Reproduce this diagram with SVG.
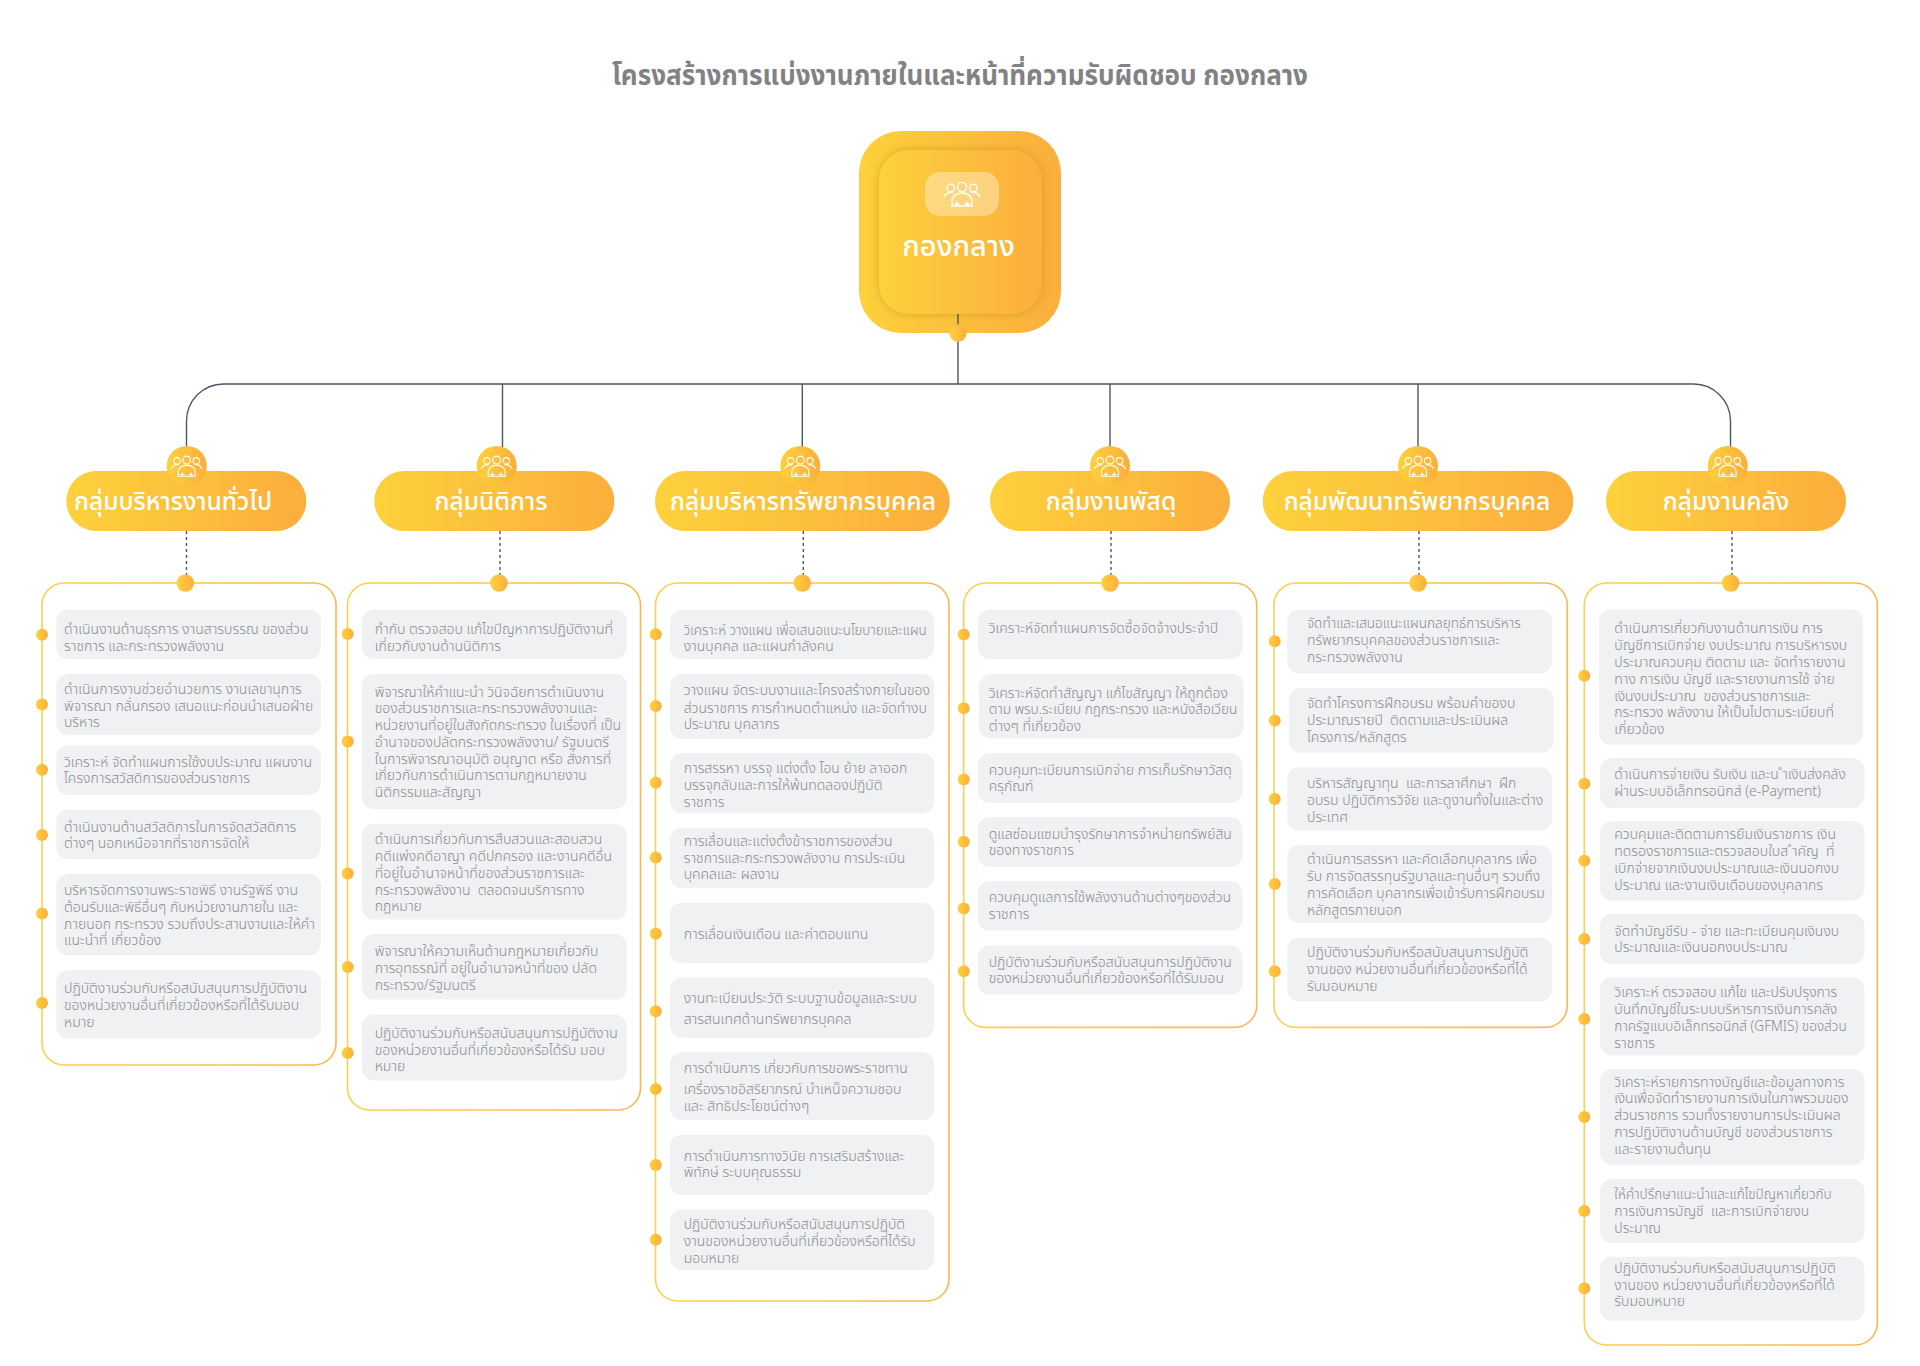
<svg xmlns="http://www.w3.org/2000/svg" xmlns:xlink="http://www.w3.org/1999/xlink" width="1920" height="1366" viewBox="0 0 1920 1366">
<style>
text{font-family:"Noto Sans Thai","Noto Sans","Liberation Sans",sans-serif}
.title{font-size:28px;font-weight:700;fill:#808285;text-anchor:middle}
.rootname{font-size:29px;font-weight:500;fill:#fff;text-anchor:middle}
.pill{fill:url(#g)}
.gname{font-size:24.600px;font-weight:500;fill:#fff;text-anchor:middle}
.panel{fill:#fff;stroke:url(#gs);stroke-width:1.6}
.item{fill:#f0f1f3}
.t{font-size:14px;font-weight:300;fill:#8a8c90}
.dot{fill:url(#g)}
.conn{fill:none;stroke:#4d5766;stroke-width:1.4}
.dash{fill:none;stroke:#4d5766;stroke-width:1.4;stroke-dasharray:3 3}
.ic{fill:none;stroke:#fff;stroke-width:1.3;stroke-linecap:round;stroke-linejoin:round}
</style>
<defs>
<linearGradient id="g" x1="0" y1="0" x2="1" y2="0"><stop offset="0" stop-color="#fdd13c"/><stop offset="1" stop-color="#fbae3c"/></linearGradient>
<linearGradient id="gs" x1="0" y1="0" x2="1" y2="0"><stop offset="0" stop-color="#fdd050"/><stop offset="1" stop-color="#fbb850"/></linearGradient>
<filter id="sh" x="-20%" y="-20%" width="140%" height="140%"><feDropShadow dx="0" dy="0" stdDeviation="5" flood-color="#8a6a20" flood-opacity="0.35"/></filter>
<g id="people" class="ic">
<circle cx="-11.3" cy="-6" r="3.8"/><circle cx="0" cy="-7" r="4.6"/><circle cx="11.3" cy="-6" r="3.8"/>
<path d="M-18 3C-16-1-13-2-9.500-1.500M18 3C16-1 13-2 9.500-1.500"/>
<path d="M-10 12V7C-10 2-5-1 0-1S10 2 10 7V12ZM-5 12V8M5 12V8M-7 10H-3M3 10H7"/>
</g>
</defs>
<text id="title" class="title" x="960" y="85" textLength="696" lengthAdjust="spacingAndGlyphs">โครงสร้างการแบ่งงานภายในและหน้าที่ความรับผิดชอบ กองกลาง</text>
<g id="root">
<rect class="pill" x="859" y="131" width="202" height="202" rx="42"/>
<rect class="pill" x="879" y="150" width="163" height="164" rx="30" filter="url(#sh)"/>
<rect x="925" y="172" width="74" height="44" rx="15" fill="#fff" fill-opacity="0.35"/>
<use xlink:href="#people" href="#people" transform="translate(962 194)"/>
<text class="rootname" x="958.500" y="256">กองกลาง</text>
</g>
<g id="connectors">
<path class="conn" d="M958 314V384M186.500 466V421A37 37 0 0 1 223.500 384H1693A37 37 0 0 1 1730.500 421V466M502.500 384V466M802.300 384V466M1110 384V466M1418 384V466"/>
<path class="dash" d="M186.500 531V575M500 531V575M803.300 531V575M1111 531V575M1419 531V575M1732 531V575"/>
</g>
<circle id="root-anchor" class="dot" cx="958" cy="333" r="8.700"/>

<g id="group1">
<rect class="panel" x="42" y="583" width="294" height="482" rx="22"/>
<circle class="dot" cx="185.300" cy="583" r="8.700"/>
<rect class="pill" x="66.300" y="471" width="240" height="60" rx="30"/>
<circle class="dot" cx="186.700" cy="466" r="20"/><use xlink:href="#people" href="#people" transform="translate(186.700 466) scale(.85)"/>
<text class="gname" x="173" y="510">กลุ่มบริหารงานทั่วไป</text>
<g id="g1i1"><circle class="dot" cx="42" cy="634.700" r="6"/><rect class="item" x="56.300" y="609.400" width="264.700" height="49.800" rx="12"/><text class="t"><tspan x="64" y="634">ดำเนินงานด้านธุรการ งานสารบรรณ ของส่วน</tspan><tspan x="64" y="651">ราชการ และกระทรวงพลังงาน</tspan></text></g>
<g id="g1i2"><circle class="dot" cx="42" cy="704.500" r="6"/><rect class="item" x="56.300" y="673.900" width="264.700" height="61.100" rx="12"/><text class="t"><tspan x="64" y="694">ดำเนินการงานช่วยอำนวยการ งานเลขานุการ</tspan><tspan x="64" y="710.600">พิจารณา กลั่นกรอง เสนอแนะก่อนนำเสนอฝ่าย</tspan><tspan x="64" y="727">บริหาร</tspan></text></g>
<g id="g1i3"><circle class="dot" cx="42" cy="769.800" r="6"/><rect class="item" x="56.300" y="745.300" width="264.700" height="49.400" rx="12"/><text class="t"><tspan x="64" y="766.500">วิเคราะห์ จัดทำแผนการใช้งบประมาณ แผนงาน</tspan><tspan x="64" y="783">โครงการสวัสดิการของส่วนราชการ</tspan></text></g>
<g id="g1i4"><circle class="dot" cx="42" cy="835" r="6"/><rect class="item" x="56.300" y="809.400" width="264.700" height="49.800" rx="12"/><text class="t"><tspan x="64" y="832">ดำเนินงานด้านสวัสดิการในการจัดสวัสดิการ</tspan><tspan x="64" y="848">ต่างๆ นอกเหนือจากที่ราชการจัดให้</tspan></text></g>
<g id="g1i5"><circle class="dot" cx="42" cy="913.500" r="6"/><rect class="item" x="56.300" y="873.900" width="264.700" height="81.600" rx="12"/><text class="t"><tspan x="64" y="895">บริหารจัดการงานพระราชพิธี งานรัฐพิธี งาน</tspan><tspan x="64" y="912">ต้อนรับและพิธีอื่นๆ กับหน่วยงานภายใน และ</tspan><tspan x="64" y="928.600">ภายนอก กระทรวง รวมถึงประสานงานและให้คำ</tspan><tspan x="64" y="945">แนะนำที่ เกี่ยวข้อง</tspan></text></g>
<g id="g1i6"><circle class="dot" cx="42" cy="1002.900" r="6"/><rect class="item" x="56.300" y="970.200" width="264.700" height="68.600" rx="12"/><text class="t"><tspan x="64" y="993">ปฏิบัติงานร่วมกับหรือสนับสนุนการปฏิบัติงาน</tspan><tspan x="64" y="1010">ของหน่วยงานอื่นที่เกี่ยวข้องหรือที่ได้รับมอบ</tspan><tspan x="64" y="1026.500">หมาย</tspan></text></g>
</g>

<g id="group2">
<rect class="panel" x="347.500" y="583" width="293" height="527" rx="22"/>
<circle class="dot" cx="499" cy="583" r="8.700"/>
<rect class="pill" x="374.300" y="471" width="240" height="60" rx="30"/>
<circle class="dot" cx="496.700" cy="466" r="20"/><use xlink:href="#people" href="#people" transform="translate(496.700 466) scale(.85)"/>
<text class="gname" x="491" y="510">กลุ่มนิติการ</text>
<g id="g2i1"><circle class="dot" cx="347.700" cy="634" r="6"/><rect class="item" x="362" y="609.600" width="264.700" height="49.400" rx="12"/><text class="t"><tspan x="374.700" y="634">กำกับ ตรวจสอบ แก้ไขปัญหาการปฏิบัติงานที่</tspan><tspan x="374.700" y="651">เกี่ยวกับงานด้านนิติการ</tspan></text></g>
<g id="g2i2"><circle class="dot" cx="347.700" cy="741.400" r="6"/><rect class="item" x="362" y="673.700" width="264.700" height="135.300" rx="12"/><text class="t"><tspan x="374.700" y="697">พิจารณาให้คำแนะนำ วินิจฉัยการดำเนินงาน</tspan><tspan x="374.700" y="713">ของส่วนราชการและกระทรวงพลังงานและ</tspan><tspan x="374.700" y="730">หน่วยงานที่อยู่ในสังกัดกระทรวง ในเรื่องที่ เป็น</tspan><tspan x="374.700" y="747">อำนาจของปลัดกระทรวงพลังงาน/ รัฐมนตรี</tspan><tspan x="374.700" y="763.500">ในการพิจารณาอนุมัติ อนุญาต หรือ สั่งการที่</tspan><tspan x="374.700" y="780.400">เกี่ยวกับการดำเนินการตามกฎหมายงาน</tspan><tspan x="374.700" y="797">นิติกรรมและสัญญา</tspan></text></g>
<g id="g2i3"><circle class="dot" cx="347.700" cy="873.600" r="6"/><rect class="item" x="362" y="823.800" width="264.700" height="95.800" rx="12"/><text class="t"><tspan x="374.700" y="844">ดำเนินการเกี่ยวกับการสืบสวนและสอบสวน</tspan><tspan x="374.700" y="860.600">คดีแพ่งคดีอาญา คดีปกครอง และงานคดีอื่น</tspan><tspan x="374.700" y="878">ที่อยู่ในอำนาจหน้าที่ของส่วนราชการและ</tspan><tspan x="374.700" y="894.500" xml:space="preserve">กระทรวงพลังงาน  ตลอดจนบริการทาง</tspan><tspan x="374.700" y="911">กฎหมาย</tspan></text></g>
<g id="g2i4"><circle class="dot" cx="347.700" cy="967" r="6"/><rect class="item" x="362" y="934" width="264.700" height="65.400" rx="12"/><text class="t"><tspan x="374.700" y="956">พิจารณาให้ความเห็นด้านกฎหมายเกี่ยวกับ</tspan><tspan x="374.700" y="973.400">การอุทธรณ์ที่ อยู่ในอำนาจหน้าที่ของ ปลัด</tspan><tspan x="374.700" y="990">กระทรวง/รัฐมนตรี</tspan></text></g>
<g id="g2i5"><circle class="dot" cx="347.700" cy="1053" r="6"/><rect class="item" x="362" y="1014.600" width="264.700" height="65.900" rx="12"/><text class="t"><tspan x="374.700" y="1037.600">ปฏิบัติงานร่วมกับหรือสนับสนุนการปฏิบัติงาน</tspan><tspan x="374.700" y="1054.500">ของหน่วยงานอื่นที่เกี่ยวข้องหรือได้รับ มอบ</tspan><tspan x="374.700" y="1071.400">หมาย</tspan></text></g>
</g>

<g id="group3">
<rect class="panel" x="655.500" y="583" width="293.500" height="718" rx="22"/>
<circle class="dot" cx="802.300" cy="583" r="8.700"/>
<rect class="pill" x="655" y="471" width="294.700" height="60" rx="30"/>
<circle class="dot" cx="800.300" cy="466" r="20"/><use xlink:href="#people" href="#people" transform="translate(800.300 466) scale(.85)"/>
<text class="gname" x="803" y="510">กลุ่มบริหารทรัพยากรบุคคล</text>
<g id="g3i1"><circle class="dot" cx="655.700" cy="634.300" r="6"/><rect class="item" x="670" y="609.700" width="264.300" height="49.600" rx="12"/><text class="t"><tspan x="683.700" y="635" textLength="243" lengthAdjust="spacingAndGlyphs">วิเคราะห์ วางแผน เพื่อเสนอแนะนโยบายและแผน</tspan><tspan x="683.700" y="651">งานบุคคล และแผนกำลังคน</tspan></text></g>
<g id="g3i2"><circle class="dot" cx="655.700" cy="706" r="6"/><rect class="item" x="670" y="673.700" width="264.300" height="65" rx="12"/><text class="t"><tspan x="683.700" y="695">วางแผน จัดระบบงานและโครงสร้างภายในของ</tspan><tspan x="683.700" y="713">ส่วนราชการ การกำหนดตำแหน่ง และจัดทำงบ</tspan><tspan x="683.700" y="729">ประมาณ บุคลากร</tspan></text></g>
<g id="g3i3"><circle class="dot" cx="655.700" cy="782.700" r="6"/><rect class="item" x="670" y="753" width="264.300" height="60.300" rx="12"/><text class="t"><tspan x="683.700" y="773">การสรรหา บรรจุ แต่งตั้ง โอน ย้าย ลาออก</tspan><tspan x="683.700" y="790">บรรจุกลับและการให้พ้นทดลองปฏิบัติ</tspan><tspan x="683.700" y="807">ราชการ</tspan></text></g>
<g id="g3i4"><circle class="dot" cx="655.700" cy="857.500" r="6"/><rect class="item" x="670" y="827.700" width="264.300" height="60.600" rx="12"/><text class="t"><tspan x="683.700" y="846">การเลื่อนและแต่งตั้งข้าราชการของส่วน</tspan><tspan x="683.700" y="863">ราชการและกระทรวงพลังงาน การประเมิน</tspan><tspan x="683.700" y="879">บุคคลและ ผลงาน</tspan></text></g>
<g id="g3i5"><circle class="dot" cx="655.700" cy="933.700" r="6"/><rect class="item" x="670" y="902.700" width="264.300" height="60.600" rx="12"/><text class="t"><tspan x="683.700" y="939">การเลื่อนเงินเดือน และค่าตอบแทน</tspan></text></g>
<g id="g3i6"><circle class="dot" cx="655.700" cy="1011.300" r="6"/><rect class="item" x="670" y="977.300" width="264.300" height="60.400" rx="12"/><text class="t"><tspan x="683.700" y="1003">งานทะเบียนประวัติ ระบบฐานข้อมูลและระบบ</tspan><tspan x="683.700" y="1024">สารสนเทศด้านทรัพยากรบุคคล</tspan></text></g>
<g id="g3i7"><circle class="dot" cx="655.700" cy="1089" r="6"/><rect class="item" x="670" y="1052.300" width="264.300" height="67.700" rx="12"/><text class="t"><tspan x="683.700" y="1073">การดำเนินการ เกี่ยวกับการขอพระราชทาน</tspan><tspan x="683.700" y="1094">เครื่องราชอิสริยาภรณ์ บำเหน็จความชอบ</tspan><tspan x="683.700" y="1111">และ สิทธิประโยชน์ต่างๆ</tspan></text></g>
<g id="g3i8"><circle class="dot" cx="655.700" cy="1165" r="6"/><rect class="item" x="670" y="1134.700" width="264.300" height="60.300" rx="12"/><text class="t"><tspan x="683.700" y="1161">การดำเนินการทางวินัย การเสริมสร้างและ</tspan><tspan x="683.700" y="1177">พิทักษ์ ระบบคุณธรรม</tspan></text></g>
<g id="g3i9"><circle class="dot" cx="655.700" cy="1239.700" r="6"/><rect class="item" x="670" y="1209.300" width="264.300" height="60.700" rx="12"/><text class="t"><tspan x="683.700" y="1229">ปฏิบัติงานร่วมกับหรือสนับสนุนการปฏิบัติ</tspan><tspan x="683.700" y="1246">งานของหน่วยงานอื่นที่เกี่ยวข้องหรือที่ได้รับ</tspan><tspan x="683.700" y="1263">มอบหมาย</tspan></text></g>
</g>

<g id="group4">
<rect class="panel" x="963.700" y="583" width="293" height="444.400" rx="22"/>
<circle class="dot" cx="1110" cy="583" r="8.700"/>
<rect class="pill" x="990" y="471" width="240" height="60" rx="30"/>
<circle class="dot" cx="1110" cy="466" r="20"/><use xlink:href="#people" href="#people" transform="translate(1110 466) scale(.85)"/>
<text class="gname" x="1111" y="510">กลุ่มงานพัสดุ</text>
<g id="g4i1"><circle class="dot" cx="963.700" cy="634.400" r="6"/><rect class="item" x="977.700" y="609.500" width="264.600" height="49.800" rx="12"/><text class="t"><tspan x="988.700" y="633">วิเคราะห์จัดทำแผนการจัดซื้อจัดจ้างประจำปี</tspan></text></g>
<g id="g4i2"><circle class="dot" cx="963.700" cy="708.300" r="6"/><rect class="item" x="979" y="673.800" width="264.600" height="64.700" rx="12"/><text class="t"><tspan x="988.700" y="697.600">วิเคราะห์จัดทำสัญญา แก้ไขสัญญา ให้ถูกต้อง</tspan><tspan x="988.700" y="714" textLength="248.600" lengthAdjust="spacingAndGlyphs">ตาม พรบ.ระเบียบ กฎกระทรวง และหนังสือเวียน</tspan><tspan x="988.700" y="731">ต่างๆ ที่เกี่ยวข้อง</tspan></text></g>
<g id="g4i3"><circle class="dot" cx="963.700" cy="779.500" r="6"/><rect class="item" x="977.700" y="753" width="264.600" height="49.800" rx="12"/><text class="t"><tspan x="988.700" y="775">ควบคุมทะเบียนการเบิกจ่าย การเก็บรักษาวัสดุ</tspan><tspan x="988.700" y="790.600">ครุภัณฑ์</tspan></text></g>
<g id="g4i4"><circle class="dot" cx="963.700" cy="841.800" r="6"/><rect class="item" x="977.700" y="817" width="264.600" height="49.700" rx="12"/><text class="t"><tspan x="988.700" y="838.800">ดูแลซ่อมแซมบำรุงรักษาการจำหน่ายทรัพย์สิน</tspan><tspan x="988.700" y="855">ของทางราชการ</tspan></text></g>
<g id="g4i5"><circle class="dot" cx="963.700" cy="908.400" r="6"/><rect class="item" x="977.700" y="880.900" width="264.600" height="49.700" rx="12"/><text class="t"><tspan x="988.700" y="902">ควบคุมดูแลการใช้พลังงานด้านต่างๆของส่วน</tspan><tspan x="988.700" y="918.700">ราชการ</tspan></text></g>
<g id="g4i6"><circle class="dot" cx="963.700" cy="971.200" r="6"/><rect class="item" x="977.700" y="945.200" width="264.600" height="49.300" rx="12"/><text class="t"><tspan x="988.700" y="966.600">ปฏิบัติงานร่วมกับหรือสนับสนุนการปฏิบัติงาน</tspan><tspan x="988.700" y="983">ของหน่วยงานอื่นที่เกี่ยวข้องหรือที่ได้รับมอบ</tspan></text></g>
</g>

<g id="group5">
<rect class="panel" x="1274" y="583" width="293.300" height="444.400" rx="22"/>
<circle class="dot" cx="1418" cy="583" r="8.700"/>
<rect class="pill" x="1262.700" y="471" width="310.600" height="60" rx="30"/>
<circle class="dot" cx="1418" cy="466" r="20"/><use xlink:href="#people" href="#people" transform="translate(1418 466) scale(.85)"/>
<text class="gname" x="1417" y="510">กลุ่มพัฒนาทรัพยากรบุคคล</text>
<g id="g5i1"><circle class="dot" cx="1274.700" cy="641.300" r="6"/><rect class="item" x="1287.300" y="609.500" width="264.700" height="63.900" rx="12"/><text class="t"><tspan x="1307" y="628" textLength="213.700" lengthAdjust="spacingAndGlyphs">จัดทำและเสนอแนะแผนกลยุทธ์การบริหาร</tspan><tspan x="1307" y="644.700" textLength="193" lengthAdjust="spacingAndGlyphs">ทรัพยากรบุคคลของส่วนราชการและ</tspan><tspan x="1307" y="661.600">กระทรวงพลังงาน</tspan></text></g>
<g id="g5i2"><circle class="dot" cx="1274.700" cy="720.500" r="6"/><rect class="item" x="1289" y="688" width="264.700" height="64.700" rx="12"/><text class="t"><tspan x="1307" y="708">จัดทำโครงการฝึกอบรม พร้อมคำของบ</tspan><tspan x="1307" y="725" xml:space="preserve">ประมาณรายปี  ติดตามและประเมินผล</tspan><tspan x="1307" y="742">โครงการ/หลักสูตร</tspan></text></g>
<g id="g5i3"><circle class="dot" cx="1274.700" cy="799" r="6"/><rect class="item" x="1287.300" y="767.200" width="264.700" height="63.500" rx="12"/><text class="t"><tspan x="1307" y="788" xml:space="preserve">บริหารสัญญาทุน  และการลาศึกษา  ฝึก</tspan><tspan x="1307" y="805">อบรม ปฏิบัติการวิจัย และดูงานทั้งในและต่าง</tspan><tspan x="1307" y="822">ประเทศ</tspan></text></g>
<g id="g5i4"><circle class="dot" cx="1274.700" cy="884" r="6"/><rect class="item" x="1287.300" y="845.300" width="264.700" height="77.700" rx="12"/><text class="t"><tspan x="1307" y="864">ดำเนินการสรรหา และคัดเลือกบุคลากร เพื่อ</tspan><tspan x="1307" y="881">รับ การจัดสรรทุนรัฐบาลและทุนอื่นๆ รวมถึง</tspan><tspan x="1307" y="897.700">การคัดเลือก บุคลากรเพื่อเข้ารับการฝึกอบรม</tspan><tspan x="1307" y="914.600">หลักสูตรภายนอก</tspan></text></g>
<g id="g5i5"><circle class="dot" cx="1274.700" cy="971.200" r="6"/><rect class="item" x="1287.300" y="937.500" width="264.700" height="63.900" rx="12"/><text class="t"><tspan x="1307" y="957">ปฏิบัติงานร่วมกับหรือสนับสนุนการปฏิบัติ</tspan><tspan x="1307" y="974">งานของ หน่วยงานอื่นที่เกี่ยวข้องหรือที่ได้</tspan><tspan x="1307" y="990.700">รับมอบหมาย</tspan></text></g>
</g>

<g id="group6">
<rect class="panel" x="1584.300" y="583" width="293" height="762" rx="22"/>
<circle class="dot" cx="1730.700" cy="583" r="8.700"/>
<rect class="pill" x="1606" y="471" width="240" height="60" rx="30"/>
<circle class="dot" cx="1727.700" cy="466" r="20"/><use xlink:href="#people" href="#people" transform="translate(1727.700 466) scale(.85)"/>
<text class="gname" x="1726" y="510">กลุ่มงานคลัง</text>
<g id="g6i1"><circle class="dot" cx="1584.300" cy="675.700" r="6"/><rect class="item" x="1599" y="609.300" width="264" height="135.400" rx="12"/><text class="t"><tspan x="1614.300" y="633.300">ดำเนินการเกี่ยวกับงานด้านการเงิน การ</tspan><tspan x="1614.300" y="650">บัญชีการเบิกจ่าย งบประมาณ การบริหารงบ</tspan><tspan x="1614.300" y="666.700">ประมาณควบคุม ติดตาม และ จัดทำรายงาน</tspan><tspan x="1614.300" y="684">ทาง การเงิน บัญชี และรายงานการใช้ จ่าย</tspan><tspan x="1614.300" y="700.700" xml:space="preserve">เงินงบประมาณ  ของส่วนราชการและ</tspan><tspan x="1614.300" y="717.300">กระทรวง พลังงาน ให้เป็นไปตามระเบียบที่</tspan><tspan x="1614.300" y="734">เกี่ยวข้อง</tspan></text></g>
<g id="g6i2"><circle class="dot" cx="1584.300" cy="783.700" r="6"/><rect class="item" x="1600" y="758" width="264.500" height="50" rx="12"/><text class="t"><tspan x="1614.300" y="779" textLength="231.400" lengthAdjust="spacingAndGlyphs">ดำเนินการจ่ายเงิน รับเงิน และน ำเงินส่งคลัง</tspan><tspan x="1614.300" y="795.700">ผ่านระบบอิเล็กทรอนิกส์ (e-Payment)</tspan></text></g>
<g id="g6i3"><circle class="dot" cx="1584.300" cy="860.700" r="6"/><rect class="item" x="1600" y="821.300" width="264.500" height="79.400" rx="12"/><text class="t"><tspan x="1614.300" y="839.300">ควบคุมและติดตามการยืมเงินราชการ เงิน</tspan><tspan x="1614.300" y="856" xml:space="preserve">ทดรองราชการและตรวจสอบใบส ำคัญ  ที่</tspan><tspan x="1614.300" y="872.700">เบิกจ่ายจากเงินงบประมาณและเงินนอกงบ</tspan><tspan x="1614.300" y="890">ประมาณ และงานเงินเดือนของบุคลากร</tspan></text></g>
<g id="g6i4"><circle class="dot" cx="1584.300" cy="939" r="6"/><rect class="item" x="1600" y="914" width="264.500" height="50" rx="12"/><text class="t"><tspan x="1614.300" y="935.700">จัดทำบัญชีรับ - จ่าย และทะเบียนคุมเงินงบ</tspan><tspan x="1614.300" y="952.300">ประมาณและเงินนอกงบประมาณ</tspan></text></g>
<g id="g6i5"><circle class="dot" cx="1584.300" cy="1019" r="6"/><rect class="item" x="1600" y="977.300" width="264.500" height="78" rx="12"/><text class="t"><tspan x="1614.300" y="997.300">วิเคราะห์ ตรวจสอบ แก้ไข และปรับปรุงการ</tspan><tspan x="1614.300" y="1014">บันทึกบัญชีในระบบบริหารการเงินการคลัง</tspan><tspan x="1614.300" y="1031" textLength="232.400" lengthAdjust="spacingAndGlyphs">ภาครัฐแบบอิเล็กทรอนิกส์ (GFMIS) ของส่วน</tspan><tspan x="1614.300" y="1048">ราชการ</tspan></text></g>
<g id="g6i6"><circle class="dot" cx="1584.300" cy="1117" r="6"/><rect class="item" x="1600" y="1069" width="264.500" height="96.300" rx="12"/><text class="t"><tspan x="1614.300" y="1086.700">วิเคราะห์รายการทางบัญชีและข้อมูลทางการ</tspan><tspan x="1614.300" y="1103.300">เงินเพื่อจัดทำรายงานการเงินในภาพรวมของ</tspan><tspan x="1614.300" y="1120.300">ส่วนราชการ รวมทั้งรายงานการประเมินผล</tspan><tspan x="1614.300" y="1137">การปฏิบัติงานด้านบัญชี ของส่วนราชการ</tspan><tspan x="1614.300" y="1153.700">และรายงานต้นทุน</tspan></text></g>
<g id="g6i7"><circle class="dot" cx="1584.300" cy="1211" r="6"/><rect class="item" x="1600" y="1179" width="264.500" height="64" rx="12"/><text class="t"><tspan x="1614.300" y="1199.300" textLength="217.400" lengthAdjust="spacingAndGlyphs">ให้คำปรึกษาแนะนำและแก้ไขปัญหาเกี่ยวกับ</tspan><tspan x="1614.300" y="1216.300" xml:space="preserve">การเงินการบัญชี  และการเบิกจ่ายงบ</tspan><tspan x="1614.300" y="1233">ประมาณ</tspan></text></g>
<g id="g6i8"><circle class="dot" cx="1584.300" cy="1288.300" r="6"/><rect class="item" x="1600" y="1256.700" width="264.500" height="64" rx="12"/><text class="t"><tspan x="1614.300" y="1273">ปฏิบัติงานร่วมกับหรือสนับสนุนการปฏิบัติ</tspan><tspan x="1614.300" y="1289.700">งานของ หน่วยงานอื่นที่เกี่ยวข้องหรือที่ได้</tspan><tspan x="1614.300" y="1306.300">รับมอบหมาย</tspan></text></g>
</g>
</svg>
